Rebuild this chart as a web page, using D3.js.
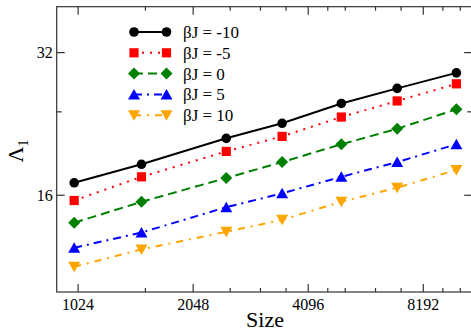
<!DOCTYPE html>
<html>
<head>
<meta charset="utf-8">
<script src="https://cdn.jsdelivr.net/npm/d3@7"></script>
<style>
    body { margin: 0; background: #fff; }
    svg { display: block; }
    svg text { font-family: "Liberation Serif", "DejaVu Serif", "Times New Roman", Times, serif; }
</style>
</head>
<body>
<div id="chart"></div>
<script>
/***** Data *****/
const sizes = [1000, 1500, 2500, 3500, 5000, 7000, 10000];
const labels = ["βJ = -10", "βJ = -5", "βJ = 0", "βJ = 5", "βJ = 10"];
const lambda_m10 = [17.0, 18.6, 21.1, 22.7, 25.0, 26.9, 29.0];
const lambda_m5 = [15.6, 17.5, 19.8, 21.3, 23.4, 25.3, 27.5];
const lambda_0 = [14.0, 15.5, 17.4, 18.8, 20.5, 22.1, 24.3];
const lambda_5 = [12.4, 13.35, 15.1, 16.15, 17.5, 18.8, 20.5];
const lambda_10 = [11.3, 12.3, 13.4, 14.2, 15.5, 16.6, 18.1];
const x_major = [1024, 2048, 4096, 8192];
const x_minor = [1536, 2560, 3072, 3584, 4608, 5120, 6144, 7168, 9216, 10240];
const y_major = [16, 32];
const y_minor = [24];

(function (d3) {
    "use strict";

    const width = 471, height = 332;
    const margin = { top: 6.7, right: -1.2, bottom: 40, left: 56.7 };
    const plot_w = width - margin.left - margin.right;
    const plot_h = height - margin.top - margin.bottom;
    const font = "'Liberation Serif', 'DejaVu Serif', serif";

    // styles of each series: colour, dash, marker
    const styles = [
        { color: "#000000", dash: null, marker: "circle" },
        { color: "#ff0000", dash: "2,6", marker: "square" },
        { color: "#008000", dash: "9,5", marker: "diamond" },
        { color: "#0000ff", dash: "8,5,2,5", marker: "up" },
        { color: "#ffa500", dash: "7,6,2,6", marker: "down" }
    ];
    const series = [lambda_m10, lambda_m5, lambda_0, lambda_5, lambda_10].map((vals, i) => ({
        label: labels[i],
        style: styles[i],
        points: sizes.map((s, j) => ({ x: s, y: vals[j] }))
    }));

    /***** Scales *****/
    var x = d3.scaleLog().base(2).domain([900, 11000]).range([0, plot_w]);
    var y = d3.scaleLog().base(2).domain([10, 40]).range([plot_h, 0]);

    var svg = d3.select("#chart").append("svg")
        .attr("width", width)
        .attr("height", height)
        .attr("font-family", font);

    var g = svg.append("g")
        .attr("transform", "translate(" + margin.left + "," + margin.top + ")");

    function markerPath(type) {
        switch (type) {
            case "circle": return d3.symbol().type(d3.symbolCircle).size(Math.PI * 4.8 * 4.8)();
            case "square": return "M-4.6,-4.6H4.6V4.6H-4.6Z";
            case "diamond": return "M0,-6L6,0L0,6L-6,0Z";
            case "up": return "M0,-5.5L6,5L-6,5Z";
            case "down": return "M0,5.5L6,-5L-6,-5Z";
        }
    }

    /***** Axes (frame with ticks on every side) *****/
    var frame = g.append("g").attr("stroke", "#333").attr("stroke-width", 1.2);
    frame.append("rect")
        .attr("width", plot_w).attr("height", plot_h)
        .attr("fill", "none");

    x_major.forEach(v => {
        frame.append("line").attr("x1", x(v)).attr("x2", x(v)).attr("y1", plot_h).attr("y2", plot_h - 8);
        frame.append("line").attr("x1", x(v)).attr("x2", x(v)).attr("y1", 0).attr("y2", 8);
    });
    x_minor.forEach(v => {
        frame.append("line").attr("x1", x(v)).attr("x2", x(v)).attr("y1", plot_h).attr("y2", plot_h - 4);
        frame.append("line").attr("x1", x(v)).attr("x2", x(v)).attr("y1", 0).attr("y2", 4);
    });
    y_major.forEach(v => {
        frame.append("line").attr("x1", 0).attr("x2", 8).attr("y1", y(v)).attr("y2", y(v));
        frame.append("line").attr("x1", plot_w).attr("x2", plot_w - 8).attr("y1", y(v)).attr("y2", y(v));
    });
    y_minor.forEach(v => {
        frame.append("line").attr("x1", 0).attr("x2", 5).attr("y1", y(v)).attr("y2", y(v));
        frame.append("line").attr("x1", plot_w).attr("x2", plot_w - 5).attr("y1", y(v)).attr("y2", y(v));
    });

    g.selectAll(".xlabel").data(x_major).enter().append("text")
        .attr("x", d => x(d)).attr("y", plot_h + 18)
        .attr("text-anchor", "middle")
        .attr("font-size", 16)
        .text(d => d);

    g.selectAll(".ylabel").data(y_major).enter().append("text")
        .attr("x", -4).attr("y", d => y(d) + 5.5)
        .attr("text-anchor", "end")
        .attr("font-size", 16)
        .text(d => d);

    svg.append("text")
        .attr("x", 265).attr("y", 327)
        .attr("text-anchor", "middle")
        .attr("font-size", 22)
        .text("Size");

    var ylab = svg.append("text")
        .attr("transform", "translate(23,151) rotate(-90)")
        .attr("text-anchor", "middle")
        .attr("font-size", 22);
    ylab.append("tspan").text("Λ");
    ylab.append("tspan").attr("font-size", 14).attr("dy", 5).text("1");

    /***** Series *****/
    var line = d3.line().x(d => x(d.x)).y(d => y(d.y));

    series.forEach(s => {
        g.append("path")
            .datum(s.points)
            .attr("d", line)
            .attr("fill", "none")
            .attr("stroke", s.style.color)
            .attr("stroke-width", 2)
            .attr("stroke-dasharray", s.style.dash);
        g.selectAll(null).data(s.points).enter().append("path")
            .attr("d", markerPath(s.style.marker))
            .attr("transform", d => "translate(" + x(d.x) + "," + y(d.y) + ")")
            .attr("fill", s.style.color);
    });

    /***** Legend *****/
    var legend = svg.append("g").attr("transform", "translate(134,32)");
    series.forEach((s, i) => {
        var row = legend.append("g").attr("transform", "translate(0," + (i * 20.8) + ")");
        row.append("line")
            .attr("x1", 0).attr("x2", 32.5)
            .attr("stroke", s.style.color)
            .attr("stroke-width", 2)
            .attr("stroke-dasharray", s.style.dash);
        [0, 32.5].forEach(px => {
            row.append("path")
                .attr("d", markerPath(s.style.marker))
                .attr("transform", "translate(" + px + ",0)")
                .attr("fill", s.style.color);
        });
        row.append("text")
            .attr("x", 49).attr("y", 6)
            .attr("font-size", 17)
            .text(s.label);
    });
})(d3);
</script>
</body>
</html>
